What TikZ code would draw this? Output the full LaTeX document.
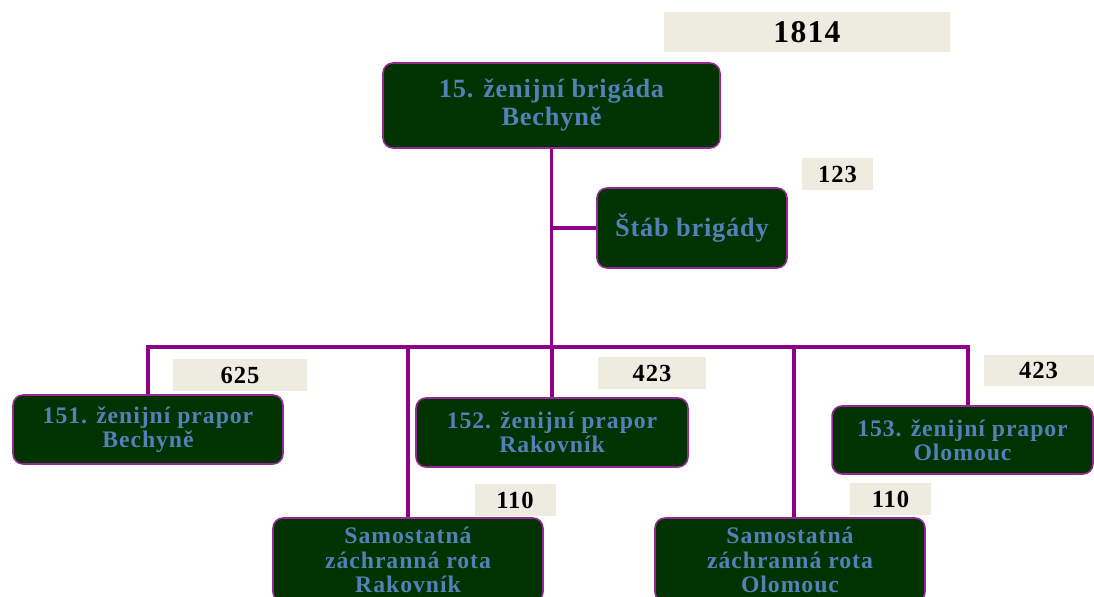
\documentclass[tikz,border=0pt]{standalone}
\usepackage{fontspec}
\setmainfont{Liberation Serif}
\newfontfamily\unitfont[LetterSpace=3]{Liberation Serif}
\newfontfamily\smallunitfont[LetterSpace=4]{Liberation Serif}
\newfontfamily\numfont[LetterSpace=4]{Liberation Serif}

\definecolor{unitgreen}{RGB}{0,51,0}
\definecolor{unitborder}{RGB}{150,40,150}
\definecolor{unitblue}{RGB}{84,128,186}
\definecolor{linkpurple}{RGB}{140,0,140}
\definecolor{numbg}{RGB}{238,236,225}

\begin{document}
\begin{tikzpicture}[x=0.02cm, y=-0.02cm,
    unit/.style={draw=unitborder, line width=0.9pt, fill=unitgreen,
        rounded corners=0.2cm, text=unitblue, align=center, inner sep=0pt},
    bigunit/.style={unit, font=\unitfont\bfseries\fontsize{15}{16}\selectfont},
    smallunit/.style={unit, font=\smallunitfont\bfseries\fontsize{13.5}{13.9}\selectfont},
    strength/.style={fill=numbg, text=black, inner sep=0pt, minimum height=0.64cm,
        font=\numfont\bfseries\fontsize{14}{15}\selectfont},
    link/.style={draw=linkpurple, line width=2pt}]
    \useasboundingbox (0,0) rectangle (1094,597);
    \clip (0,0) rectangle (1094,597);

    % Brigade and staff
    \node[strength, minimum width=5.74cm, minimum height=0.8cm,
          font=\numfont\bfseries\fontsize{18}{20}\selectfont] (n1814) at (807,32) {1814};
    \node[bigunit, minimum width=6.74cm, minimum height=1.7cm] (brig) at (551.5,105.5)
        {15. ženijní brigáda\\Bechyně};
    \node[strength, minimum width=1.42cm] (n123) at (837.5,174) {123};
    \node[bigunit, minimum width=3.8cm, minimum height=1.6cm] (stab) at (692,228) {Štáb brigády};

    % Battalions
    \node[strength, minimum width=2.68cm] (n625) at (240,375) {625};
    \node[smallunit, minimum width=5.4cm, minimum height=1.38cm] (p151) at (148,429.5)
        {151. ženijní prapor\\Bechyně};
    \node[strength, minimum width=2.16cm] (n423a) at (652,373) {423};
    \node[smallunit, minimum width=5.44cm, minimum height=1.38cm] (p152) at (552,432.5)
        {152. ženijní prapor\\Rakovník};
    \node[strength, minimum width=2.2cm, minimum height=0.62cm] (n423b) at (1038.5,370.5) {423};
    \node[smallunit, minimum width=5.22cm, minimum height=1.36cm] (p153) at (962.5,440)
        {153. ženijní prapor\\Olomouc};

    % Rescue companies
    \node[strength, minimum width=1.62cm] (n110a) at (515,500) {110};
    \node[smallunit, minimum width=5.4cm, minimum height=1.68cm] (rotaR) at (408,560)
        {Samostatná\\záchranná rota\\Rakovník};
    \node[strength, minimum width=1.62cm] (n110b) at (890.5,499) {110};
    \node[smallunit, minimum width=5.4cm, minimum height=1.68cm] (rotaO) at (790,560)
        {Samostatná\\záchranná rota\\Olomouc};

    % Connectors
    \coordinate (bus) at (553,347);
    \draw[link] (brig.south) -- (brig.south |- bus);
    \draw[link] (stab.west -| brig.south) -- (stab.west);
    \draw[link] (p151.north) -- (p151.north |- bus) -- ([xshift=0.11cm]p153.north |- bus)
        -- ([xshift=0.11cm]p153.north);
    \foreach \u in {rotaR,p152}
        \draw[link] (\u.north |- bus) -- (\u.north);
    \draw[link] ([xshift=0.08cm]rotaO.north |- bus) -- ([xshift=0.08cm]rotaO.north);
\end{tikzpicture}
\end{document}
